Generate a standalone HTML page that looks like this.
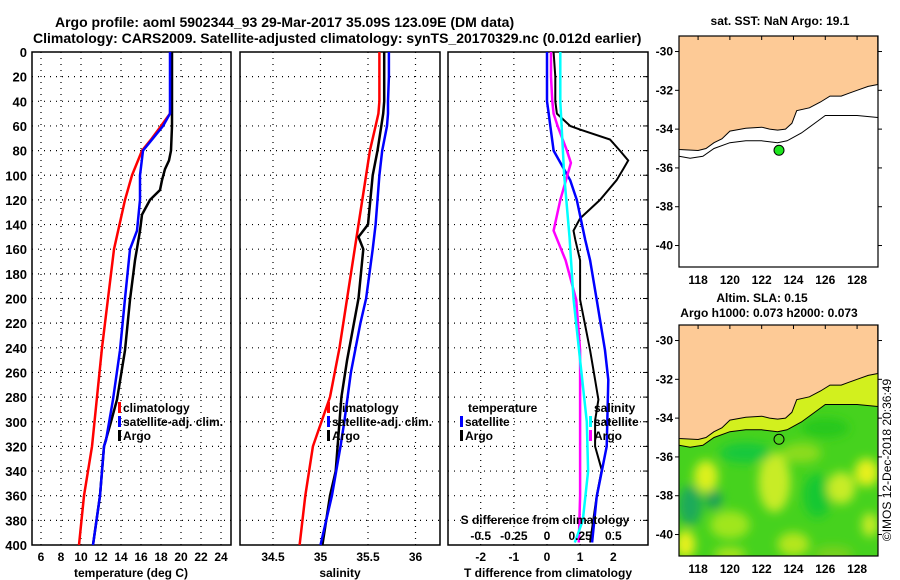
<!DOCTYPE html>
<html><head><meta charset="utf-8"><style>
html,body{margin:0;padding:0;background:#fff;}
svg{display:block;font-family:"Liberation Sans",Arial,sans-serif;font-weight:bold;}
</style></head><body>
<svg id="fig" width="900" height="580" viewBox="0 0 900 580" xmlns="http://www.w3.org/2000/svg">
<text x="55" y="27" font-size="14">Argo profile: aoml 5902344_93 29-Mar-2017 35.09S 123.09E (DM data)</text>
<text x="33" y="43" font-size="14">Climatology: CARS2009. Satellite-adjusted climatology: synTS_20170329.nc (0.012d earlier)</text>
<text x="780" y="25" font-size="12" text-anchor="middle">sat. SST: NaN Argo: 19.1</text>
<text x="762" y="302" font-size="12" text-anchor="middle">Altim. SLA: 0.15</text>
<text x="769" y="317" font-size="12" text-anchor="middle">Argo h1000: 0.073 h2000: 0.073</text>
<text x="0" y="0" font-size="12" font-weight="normal" text-anchor="middle" transform="translate(891,460) rotate(-90)">©IMOS 12-Dec-2018 20:36:49</text>
<g id="plots"></g>
</svg>
<script>
// ---- data ----
const depthTicks=[0,20,40,60,80,100,120,140,160,180,200,220,240,260,280,300,320,340,360,380,400];
const tempTicks=[6,8,10,12,14,16,18,20,22,24];
const salTicks=[34.5,35,35.5,36];
const salTickLabels=['34.5','35','35.5','36'];
const tdiffTicks=[-2,-1,0,1,2];
const sdiffTicks=[-0.5,-0.25,0,0.25,0.5];
const sdiffTickLabels=['-0.5','-0.25','0','0.25','0.5'];

const tempClimDepth=[0,20,40,50,60,70,80,100,120,160,200,240,280,320,360,400];
const tempClim=[19.0,19.0,18.95,18.9,18.0,17.1,16.1,15.1,14.4,13.3,12.7,12.1,11.6,11.1,10.3,9.8];
const tempSatDepth=[0,20,40,50,60,70,80,100,120,145,160,200,242,282,315,320,360,400];
const tempSat=[18.9,18.9,18.9,18.9,18.2,17.2,16.2,15.9,15.9,15.6,14.9,14.4,13.9,13.2,12.5,12.3,11.9,11.2];
const tempArgoDepth=[0,20,40,60,70,80,88,95,104,112,120,132,145,169,201,242,282,300,320,340,360,400];
const tempArgo=[19.1,19.1,19.1,19.1,19.05,19.0,18.8,18.4,18.1,17.9,16.9,16.1,15.9,15.4,14.9,14.4,13.6,13.0,12.3,12.1,11.9,11.2];

const salClimDepth=[0,20,40,50,60,80,100,140,200,240,280,320,360,400];
const salClim=[35.62,35.62,35.62,35.61,35.58,35.52,35.48,35.4,35.28,35.2,35.1,34.92,34.84,34.78];
const salSatDepth=[0,20,40,50,60,80,100,140,160,200,220,260,300,320,360,400];
const salSat=[35.72,35.72,35.71,35.71,35.7,35.65,35.62,35.58,35.55,35.48,35.42,35.32,35.25,35.21,35.12,35.0];
const salArgoDepth=[0,20,40,50,60,80,100,140,150,160,200,250,280,320,340,360,400];
const salArgo=[35.67,35.67,35.67,35.66,35.64,35.6,35.55,35.5,35.4,35.45,35.4,35.28,35.22,35.18,35.16,35.1,35.02];

const tdiffArgoDepth=[0,20,40,50,60,63,71,80,88,95,104,120,135,145,152,169,201,242,266,282,299,320,339,360,398];
const tdiffArgo=[0.2,0.25,0.25,0.3,0.7,1.0,1.9,2.2,2.45,2.3,2.1,1.6,1.0,0.8,0.85,1.0,1.0,1.3,1.45,1.55,1.45,1.45,1.65,1.5,1.3];
const tdiffSatDepth=[0,20,40,50,60,80,104,120,152,169,201,242,266,320,361,398];
const tdiffSat=[0.0,0.0,0.0,0.05,0.1,0.2,0.7,0.9,1.15,1.3,1.5,1.75,1.85,1.8,1.5,1.36];
const sdiffArgoDepth=[0,20,40,50,60,80,90,120,145,169,201,242,282,320,360,398];
const sdiffArgo=[0.03,0.03,0.04,0.05,0.08,0.15,0.18,0.1,0.05,0.14,0.22,0.25,0.25,0.25,0.25,0.24];
const sdiffSatDepth=[0,20,40,60,100,150,200,250,300,340,380,398];
const sdiffSat=[0.1,0.1,0.1,0.11,0.13,0.17,0.2,0.25,0.3,0.31,0.27,0.21];

const mapLonTicks=[118,120,122,124,126,128];
const mapLatTicks=[-30,-32,-34,-36,-38,-40];
const coastLon=[116.8,118,118.5,119,119.5,120,121,122,122.5,123,123.5,123.9,124.2,125,125.7,126.3,127,127.5,128,128.7,129.3];
const coastLat=[-35.05,-35.1,-35.0,-34.7,-34.5,-34.1,-33.95,-33.9,-34.0,-34.05,-34.0,-33.7,-33.05,-32.9,-32.6,-32.3,-32.3,-32.15,-32.0,-31.8,-31.7];
const isoLon=[116.8,117.5,118.3,119,120,121,122,123,123.6,124.5,125.5,126,127,128,129.3];
const isoLat=[-35.4,-35.5,-35.4,-35.0,-34.7,-34.6,-34.6,-34.7,-34.6,-34.2,-33.6,-33.3,-33.3,-33.3,-33.4];
const argoLon=123.09, argoLat=-35.09;

// ---- helpers ----
const NS='http://www.w3.org/2000/svg';
const root=document.getElementById('plots');
function mk(tag,attrs,parent){const e=document.createElementNS(NS,tag);for(const k in attrs)e.setAttribute(k,attrs[k]);(parent||root).appendChild(e);return e;}
const Y0=52,Y1=545;
const yD=d=>Y0+(d/400)*(Y1-Y0);
const xT=t=>41+(t-6)*10;
const xS=s=>273+(s-34.5)*95;
const xTd=t=>547+t*33.15;
const xSd=s=>xTd(s*4);

function frame(x0,x1,name){
  const r=mk('rect',{x:x0,y:Y0,width:x1-x0,height:Y1-Y0,fill:'#fff',stroke:'#000','stroke-width':1.5});
  
  
  depthTicks.forEach(d=>{
    if(d===0||d===400)return;
    const g=mk('line',{x1:x0,x2:x1,y1:yD(d),y2:yD(d),stroke:'#000','stroke-dasharray':'1 5','stroke-width':1.2});
    
    
  });
}
function vgrid(vals,fx,name){
  vals.forEach(v=>{
    const g=mk('line',{x1:fx(v),x2:fx(v),y1:Y0,y2:Y1,stroke:'#000','stroke-dasharray':'1 5','stroke-width':1.2});
    
    
  });
}
function line(ds,vs,fx,color,w,name){
  const p=ds.map((d,i)=>fx(vs[i]).toFixed(1)+','+yD(d).toFixed(1)).join(' ');
  const l=mk('polyline',{points:p,fill:'none',stroke:color,'stroke-width':w});
  
  
}
function txt(x,y,s,size,anchor,name){
  const t=mk('text',{x:x,y:y,'font-size':size,'text-anchor':anchor||'start'});
  t.textContent=s;
  
  
  return t;
}
function legend(x,y,color,label,name){
  const m=mk('rect',{x:x,y:y-10,width:3,height:11,fill:color});
  
  
  txt(x+5,y,label,12,'start',name);
}

// ---- panel 1: temperature ----
frame(32,231,'temperature-plot-area');
vgrid(tempTicks,xT,'temperature-gridline');
depthTicks.forEach(d=>txt(27,yD(d)+5,String(d),13,'end','depth-tick-label'));
tempTicks.forEach(t=>txt(xT(t),561,String(t),12,'middle','temperature-tick-label'));
txt(131,577,'temperature (deg C)',12,'middle','temperature-axis-title');
line(tempClimDepth,tempClim,xT,'#f00',2.5,'temperature-climatology-line');
line(tempArgoDepth,tempArgo,xT,'#000',2.5,'temperature-argo-line');
line(tempSatDepth,tempSat,xT,'#00f',2.5,'temperature-satellite-line');
legend(118,412,'#f00','climatology','temp-legend-climatology');
legend(118,426,'#00f','satellite-adj. clim.','temp-legend-satellite');
legend(118,440,'#000','Argo','temp-legend-argo');

// ---- panel 2: salinity ----
frame(240,440,'salinity-plot-area');
vgrid(salTicks,xS,'salinity-gridline');
salTicks.forEach((s,i)=>txt(xS(s),561,salTickLabels[i],12,'middle','salinity-tick-label'));
txt(340,577,'salinity',12,'middle','salinity-axis-title');
line(salClimDepth,salClim,xS,'#f00',2.5,'salinity-climatology-line');
line(salArgoDepth,salArgo,xS,'#000',2.5,'salinity-argo-line');
line(salSatDepth,salSat,xS,'#00f',2.5,'salinity-satellite-line');
legend(327,412,'#f00','climatology','sal-legend-climatology');
legend(327,426,'#00f','satellite-adj. clim.','sal-legend-satellite');
legend(327,440,'#000','Argo','sal-legend-argo');

// ---- panel 3: differences ----
frame(448,648,'difference-plot-area');
vgrid(tdiffTicks,xTd,'tdiff-gridline');
depthTicks.forEach(d=>{const t=mk('line',{x1:643,x2:648,y1:yD(d),y2:yD(d),stroke:'#000'});});
tdiffTicks.forEach(t=>txt(xTd(t),561,String(t),12,'middle','tdiff-tick-label'));
txt(548,577,'T difference from climatology',12,'middle','tdiff-axis-title');
line(tdiffArgoDepth,tdiffArgo,xTd,'#000',2,'tdiff-argo-line');
line(tdiffSatDepth,tdiffSat,xTd,'#00f',2.5,'tdiff-satellite-line');
line(sdiffArgoDepth,sdiffArgo,xSd,'#f0f',2.5,'sdiff-argo-line');
line(sdiffSatDepth,sdiffSat,xSd,'#0ff',2.5,'sdiff-satellite-line');
txt(545,524,'S difference from climatology',12,'middle','sdiff-axis-title');
sdiffTicks.forEach((s,i)=>txt(xSd(s),540,sdiffTickLabels[i],12,'middle','sdiff-tick-label'));
txt(468,412,'temperature',12,'start','diff-legend-temperature-header');
legend(460,426,'#00f','satellite','diff-legend-tsat');
legend(460,440,'#000','Argo','diff-legend-targo');
txt(594,412,'salinity',12,'start','diff-legend-salinity-header');
legend(589,426,'#0ff','satellite','diff-legend-ssat');
legend(589,440,'#f0f','Argo','diff-legend-sargo');

// ---- maps ----
const MX0=679,MX1=878,MH=231;
const mx=lon=>MX0+(lon-116.8)*15.9;
function drawMap(top,name,filled){
  const my=lat=>top+(-29.2-lat)*19.4;
  const g=mk('g',{});
  
  
  const clipId='clip-'+name;
  const cp=mk('clipPath',{id:clipId},g);
  mk('rect',{x:MX0,y:top,width:MX1-MX0,height:MH},cp);
  const inner=mk('g',{'clip-path':'url(#'+clipId+')'},g);
  mk('rect',{x:MX0,y:top,width:MX1-MX0,height:MH,fill:filled?'#46d21e':'#fff'},inner);
  if(filled){
    const fid='blur-'+name;
    const f=mk('filter',{id:fid,x:'-50%',y:'-50%',width:'200%',height:'200%'},g);
    mk('feGaussianBlur',{stdDeviation:5},f);
    const blobs=[[118.5,-37,12,16,'#dcf01e'],[122.8,-37.3,16,30,'#c8ec28'],[120,-39.5,20,14,'#a0e61e'],[125.5,-38,14,22,'#14c832'],[127,-37.6,14,16,'#c8ec28'],[128.6,-36.8,12,14,'#e6f01e'],[117.5,-38.5,12,20,'#1eaa5a'],[124.5,-35.8,20,10,'#8cdc1e'],[126,-34.5,24,10,'#28c81e'],[121,-35.8,26,10,'#14c83c'],[117.2,-40.5,10,14,'#e6f01e'],[124,-40.5,16,12,'#b4e61e'],[126.5,-41,20,8,'#78d21e'],[120,-41,16,6,'#b4e61e'],[128.8,-39.5,8,12,'#c8ec28'],[119,-38.2,8,10,'#1ea05a']];
    const bg=mk('g',{filter:'url(#'+fid+')'},inner);
    blobs.forEach(b=>mk('ellipse',{cx:mx(b[0]),cy:my(b[1]),rx:b[2],ry:b[3],fill:b[4]},bg));
    const pts=coastLon.map((l,i)=>mx(l)+','+my(coastLat[i])).join(' ')+' '+isoLon.map((l,i)=>[mx(l),my(isoLat[i])]).reverse().map(p=>p[0]+','+p[1]).join(' ');
    const shelf=mk('polygon',{points:pts,fill:'#d2f01e'},inner);
    
    
  }
  const land=mk('polygon',{points:mx(116.8)+','+top+' '+coastLon.map((l,i)=>mx(l).toFixed(1)+','+my(coastLat[i]).toFixed(1)).join(' ')+' '+mx(129.3)+','+top,fill:'#fdca96',stroke:'#000','stroke-width':1},inner);
  
  
  const iso=mk('polyline',{points:isoLon.map((l,i)=>mx(l).toFixed(1)+','+my(isoLat[i]).toFixed(1)).join(' '),fill:'none',stroke:'#000','stroke-width':1},inner);
  
  
  const dot=mk('circle',{cx:mx(argoLon),cy:my(argoLat),r:5,fill:filled?'#50d21e':'#1ee61e',stroke:'#000','stroke-width':1},g);
  
  
  mk('rect',{x:MX0,y:top,width:MX1-MX0,height:MH,fill:'none',stroke:'#000','stroke-width':1.2},g);
  mapLonTicks.forEach(l=>{
    mk('line',{x1:mx(l),x2:mx(l),y1:top,y2:top+4,stroke:'#000'},g);
    txt(mx(l),top+MH+17,String(l),12,'middle',name+'-lon-label');
  });
  mapLatTicks.forEach(l=>{
    mk('line',{x1:MX0-4,x2:MX0,y1:my(l),y2:my(l),stroke:'#000'},g);
    mk('line',{x1:MX1,x2:MX1+4,y1:my(l),y2:my(l),stroke:'#000'},g);
    txt(MX0-6,my(l)+4,String(l),12,'end',name+'-lat-label');
  });
}
drawMap(36,'sst-map',false);
drawMap(325,'sla-map',true);
</script>
</body></html>
